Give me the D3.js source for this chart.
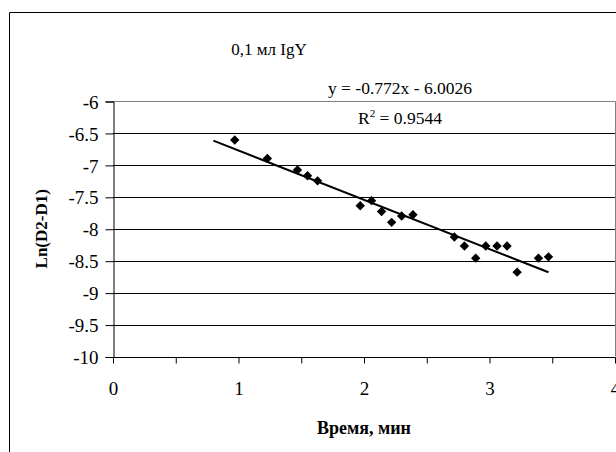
<!DOCTYPE html>
<html>
<head>
<meta charset="utf-8">
<script src="https://cdn.jsdelivr.net/npm/d3@7"></script>
<style>
  body { margin: 0; background: #fff; }
  text { font-family: "Liberation Serif", "Times New Roman", serif; fill: #000; }
</style>
</head>
<body>
<div id="chart"></div>
<script>
// measured points: time (min) and Ln(D2-D1)
var timeMin = [0.97, 1.23, 1.47, 1.55, 1.63, 1.97, 2.06, 2.14, 2.22, 2.30,
               2.39, 2.72, 2.80, 2.89, 2.97, 3.06, 3.14, 3.22, 3.39, 3.47];
var lnDiff  = [-6.61, -6.90, -7.08, -7.17, -7.25, -7.64, -7.56, -7.73, -7.90, -7.80,
               -7.78, -8.13, -8.27, -8.46, -8.27, -8.27, -8.27, -8.68, -8.46, -8.44];

// linear trend as reported on the chart
var trendCoef = [-0.772, -6.0026];
var trendSpan = [0.8, 3.47];

var xTicks = [0, 0.5, 1, 1.5, 2, 2.5, 3, 3.5, 4];
var xLabels = [0, 1, 2, 3, 4];
var yTicks = [-6, -6.5, -7, -7.5, -8, -8.5, -9, -9.5, -10];

var W = 616, H = 452;
var pL = 113, pR = 615, pT = 101, pB = 356.5;

var svg = d3.select("#chart").append("svg").attr("width", W).attr("height", H);

// chart frame
svg.append("path")
    .attr("d", "M9.5," + H + "V12.5H" + W)
    .attr("fill", "none").attr("stroke", "#000").attr("stroke-width", 1);

var x = d3.scaleLinear().domain([0, 4]).range([pL, pR]);
var y = d3.scaleLinear().domain([-10, -6]).range([pB, pT]);

// grid lines
svg.append("g").selectAll("line")
    .data(yTicks.filter(function(d){ return d > -10 && d < -6; }))
    .enter().append("line")
    .attr("x1", pL).attr("x2", pR)
    .attr("y1", function(d){ return Math.round(y(d)) + 0.5; })
    .attr("y2", function(d){ return Math.round(y(d)) + 0.5; })
    .attr("stroke", "#000").attr("stroke-width", 1);

// plot area top/right border
svg.append("path")
    .attr("d", "M" + pL + "," + (Math.round(pT) + 0.5) + "H" + (pR + 0.5) + "V" + pB)
    .attr("fill", "none").attr("stroke", "#808080").attr("stroke-width", 1);

// y axis
var yAxis = d3.axisLeft(y).tickValues(yTicks).tickSize(8).tickPadding(7)
    .tickFormat(function(d){ return String(d); });
var gy = svg.append("g").attr("transform", "translate(" + (pL + 0.5) + ",0.5)").call(yAxis);
gy.select(".domain").attr("stroke", "#000");
gy.selectAll("text").style("font-size", "19px").attr("dy", "0.35em");

// x axis
var xAxis = d3.axisBottom(x).tickValues(xTicks).tickSize(6).tickPadding(18)
    .tickFormat(function(d){ return xLabels.indexOf(d) >= 0 ? String(d) : ""; });
var gx = svg.append("g").attr("transform", "translate(0," + (Math.round(pB) + 0.5) + ")").call(xAxis);
gx.selectAll("text").style("font-size", "19px");
gx.select(".domain").attr("d", "M" + pL + ",0H" + (pR + 0.5));

// trend line
svg.append("line")
    .attr("x1", x(trendSpan[0])).attr("y1", y(trendCoef[0] * trendSpan[0] + trendCoef[1]))
    .attr("x2", x(trendSpan[1])).attr("y2", y(trendCoef[0] * trendSpan[1] + trendCoef[1]))
    .attr("stroke", "#000").attr("stroke-width", 2);

// points
var pts = timeMin.map(function(t, i){ return [t, lnDiff[i]]; });
svg.append("g").selectAll("path")
    .data(pts).enter().append("path")
    .attr("d", d3.symbol(d3.symbolSquare, 44))
    .attr("transform", function(d){ return "translate(" + x(d[0]) + "," + y(d[1]) + ") rotate(45)"; })
    .attr("fill", "#000");

// titles
svg.append("text").attr("x", 269).attr("y", 55).attr("text-anchor", "middle")
    .style("font-size", "17px").text("0,1 мл IgY");

svg.append("text").attr("x", 400).attr("y", 94).attr("text-anchor", "middle")
    .style("font-size", "17.5px").text("y = -0.772x - 6.0026");

var r2 = svg.append("text").attr("x", 400).attr("y", 124).attr("text-anchor", "middle")
    .style("font-size", "17.5px");
r2.append("tspan").text("R");
r2.append("tspan").attr("dy", -7).style("font-size", "11px").text("2");
r2.append("tspan").attr("dy", 7).text(" = 0.9544");

svg.append("text").attr("x", (pL + pR) / 2).attr("y", 434).attr("text-anchor", "middle")
    .style("font-size", "18px").style("font-weight", "bold").text("Время, мин");

svg.append("text").attr("transform", "translate(47," + ((pT + pB) / 2) + ") rotate(-90)")
    .attr("text-anchor", "middle")
    .style("font-size", "17px").style("font-weight", "bold").text("Ln(D2-D1)");
</script>
</body>
</html>
